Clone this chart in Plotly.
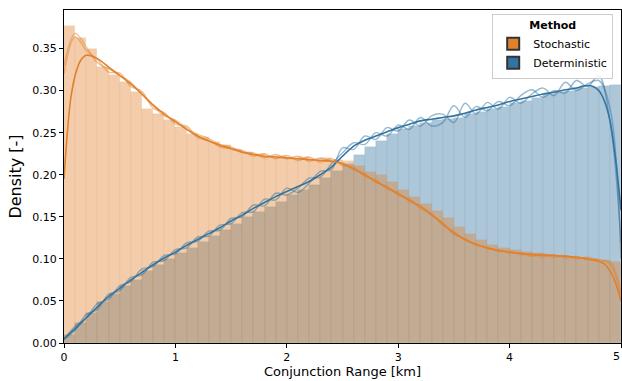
import plotly.graph_objects as go

# ---------------- data ----------------
bin_centers = [round(0.05 + 0.1 * i, 2) for i in range(50)]

stoch_hist = [0.377, 0.363, 0.350, 0.328, 0.318, 0.310, 0.298, 0.278, 0.272, 0.265,
              0.257, 0.249, 0.245, 0.239, 0.235, 0.229, 0.227, 0.225, 0.222, 0.222,
              0.220, 0.221, 0.219, 0.220, 0.218, 0.216, 0.210, 0.203, 0.200, 0.191,
              0.182, 0.174, 0.165, 0.157, 0.148, 0.138, 0.130, 0.123, 0.117, 0.113,
              0.111, 0.108, 0.107, 0.105, 0.104, 0.102, 0.101, 0.100, 0.098, 0.096]

determ_hist = [0.010, 0.024, 0.036, 0.049, 0.058, 0.068, 0.075, 0.085, 0.093, 0.100,
               0.107, 0.113, 0.120, 0.127, 0.134, 0.142, 0.150, 0.156, 0.162, 0.168,
               0.176, 0.182, 0.188, 0.196, 0.204, 0.213, 0.224, 0.233, 0.240, 0.248,
               0.254, 0.258, 0.262, 0.265, 0.266, 0.268, 0.272, 0.274, 0.278, 0.280,
               0.285, 0.288, 0.291, 0.296, 0.298, 0.300, 0.303, 0.304, 0.305, 0.307]

# smooth KDE curves
stoch_kde_x = [0, 0.03, 0.06, 0.1, 0.15, 0.2, 0.3, 0.4, 0.5, 0.6, 0.7, 0.8, 0.9, 1.0,
               1.1, 1.2, 1.3, 1.4, 1.5, 1.6, 1.7, 1.8, 1.9, 2.0, 2.1, 2.2, 2.3, 2.4,
               2.5, 2.6, 2.7, 2.8, 2.9, 3.0, 3.1, 3.2, 3.3, 3.4, 3.5, 3.6, 3.7, 3.8,
               3.9, 4.0, 4.2, 4.4, 4.6, 4.7, 4.8, 4.85, 4.9, 4.95, 5.0]
stoch_kde_y = [0.195, 0.250, 0.290, 0.318, 0.336, 0.342, 0.338, 0.328, 0.318, 0.308,
               0.296, 0.283, 0.272, 0.263, 0.254, 0.246, 0.240, 0.235, 0.231, 0.227,
               0.224, 0.222, 0.221, 0.220, 0.219, 0.218, 0.217, 0.216, 0.213, 0.207,
               0.200, 0.192, 0.185, 0.177, 0.170, 0.162, 0.153, 0.142, 0.131, 0.123,
               0.117, 0.113, 0.110, 0.108, 0.105, 0.104, 0.102, 0.100, 0.097, 0.094,
               0.086, 0.072, 0.050]

determ_kde_x = [0, 0.1, 0.2, 0.3, 0.4, 0.5, 0.6, 0.7, 0.8, 0.9, 1.0, 1.1, 1.2, 1.3,
                1.4, 1.5, 1.6, 1.7, 1.8, 1.9, 2.0, 2.1, 2.2, 2.3, 2.4, 2.5, 2.6, 2.7,
                2.8, 2.9, 3.0, 3.1, 3.2, 3.3, 3.4, 3.5, 3.6, 3.7, 3.8, 3.9, 4.0, 4.1,
                4.2, 4.3, 4.4, 4.5, 4.6, 4.65, 4.7, 4.75, 4.8, 4.85, 4.9, 4.95, 5.0]
determ_kde_y = [0.005, 0.017, 0.030, 0.043, 0.055, 0.065, 0.075, 0.084, 0.093, 0.101,
                0.108, 0.116, 0.123, 0.130, 0.137, 0.145, 0.152, 0.160, 0.167, 0.174,
                0.180, 0.186, 0.192, 0.200, 0.209, 0.222, 0.234, 0.241, 0.246, 0.251,
                0.256, 0.260, 0.264, 0.266, 0.268, 0.270, 0.273, 0.277, 0.280, 0.283,
                0.287, 0.290, 0.293, 0.296, 0.298, 0.301, 0.303, 0.305, 0.306, 0.305,
                0.300, 0.288, 0.265, 0.220, 0.158]

# thin, low-bandwidth KDE runs (sampled every 0.1 km)
grid_x = [round(0.1 * i, 1) for i in range(51)]
stoch_run_a = [0.330, 0.368, 0.352, 0.333, 0.326, 0.318, 0.310, 0.295, 0.282, 0.270,
               0.265, 0.255, 0.248, 0.243, 0.236, 0.233, 0.226, 0.226, 0.220, 0.224,
               0.219, 0.222, 0.216, 0.220, 0.216, 0.214, 0.206, 0.201, 0.191, 0.186,
               0.176, 0.171, 0.160, 0.153, 0.140, 0.132, 0.122, 0.118, 0.112, 0.111,
               0.107, 0.107, 0.103, 0.106, 0.102, 0.104, 0.100, 0.102, 0.098, 0.097,
               0.060]
stoch_run_b = [0.320, 0.364, 0.348, 0.337, 0.322, 0.321, 0.305, 0.299, 0.279, 0.274,
               0.260, 0.258, 0.244, 0.241, 0.233, 0.231, 0.229, 0.222, 0.225, 0.219,
               0.223, 0.217, 0.221, 0.215, 0.219, 0.211, 0.209, 0.198, 0.194, 0.183,
               0.179, 0.168, 0.163, 0.151, 0.143, 0.129, 0.124, 0.116, 0.114, 0.109,
               0.109, 0.105, 0.106, 0.102, 0.105, 0.101, 0.103, 0.099, 0.099, 0.094,
               0.055]
determ_run_a = [0.005, 0.020, 0.030, 0.047, 0.052, 0.068, 0.073, 0.088, 0.091, 0.104,
                0.106, 0.119, 0.121, 0.133, 0.134, 0.148, 0.150, 0.164, 0.163, 0.178,
                0.176, 0.184, 0.196, 0.197, 0.213, 0.226, 0.238, 0.236, 0.250, 0.246,
                0.259, 0.254, 0.268, 0.258, 0.262, 0.282, 0.268, 0.281, 0.276, 0.287,
                0.282, 0.294, 0.301, 0.292, 0.300, 0.297, 0.312, 0.305, 0.318, 0.265,
                0.120]
determ_run_b = [0.004, 0.015, 0.034, 0.040, 0.058, 0.062, 0.078, 0.081, 0.096, 0.098,
                0.111, 0.113, 0.126, 0.127, 0.140, 0.142, 0.155, 0.156, 0.171, 0.170,
                0.184, 0.179, 0.190, 0.204, 0.206, 0.232, 0.230, 0.246, 0.242, 0.256,
                0.252, 0.265, 0.258, 0.270, 0.272, 0.262, 0.285, 0.272, 0.286, 0.278,
                0.292, 0.285, 0.296, 0.303, 0.294, 0.310, 0.300, 0.308, 0.312, 0.280,
                0.100]

x_ticks = [0, 1, 2, 3, 4, 5]
y_ticks = [0.00, 0.05, 0.10, 0.15, 0.20, 0.25, 0.30, 0.35]
labels = ["Stochastic", "Deterministic"]

# ---------------- style ----------------
ORANGE = "225,129,44"
BLUE = "50,116,161"
FONT = "DejaVu Sans"

fig = go.Figure()

# Deterministic bars (below), Stochastic bars (on top)
for vals, col in [(determ_hist, BLUE), (stoch_hist, ORANGE)]:
    fig.add_trace(go.Bar(
        x=bin_centers, y=vals, width=0.1,
        marker=dict(color=f"rgba({col},0.4)",
                    line=dict(color=f"rgba({col},0.14)", width=0.6)),
        showlegend=False, hoverinfo="skip"))

# thin runs
for ys, col in [(determ_run_a, BLUE), (determ_run_b, BLUE),
                (stoch_run_a, ORANGE), (stoch_run_b, ORANGE)]:
    fig.add_trace(go.Scatter(
        x=grid_x, y=ys, mode="lines",
        line=dict(color=f"rgba({col},0.5)", width=1.4, shape="spline", smoothing=1.0),
        showlegend=False, hoverinfo="skip"))

# smooth KDEs
fig.add_trace(go.Scatter(x=determ_kde_x, y=determ_kde_y, mode="lines",
                         line=dict(color=f"rgb({BLUE})", width=1.6, shape="spline", smoothing=0.8),
                         showlegend=False, hoverinfo="skip"))
fig.add_trace(go.Scatter(x=stoch_kde_x, y=stoch_kde_y, mode="lines",
                         line=dict(color=f"rgb({ORANGE})", width=1.6, shape="spline", smoothing=0.8),
                         showlegend=False, hoverinfo="skip"))

# legend entries (opaque patches)
for name, col in zip(labels, [ORANGE, BLUE]):
    fig.add_trace(go.Bar(x=[None], y=[None], name=name,
                         marker=dict(color=f"rgb({col})", line=dict(color="#333333", width=1)),
                         showlegend=True))

fig.update_layout(
    width=622, height=381,
    margin=dict(l=64, r=1, t=10, b=38),
    paper_bgcolor="white", plot_bgcolor="white",
    barmode="overlay", bargap=0,
    font=dict(family=FONT, size=11, color="black"),
    legend=dict(
        title=dict(text="<b>Method</b>", side="top center", font=dict(size=11)),
        x=0.986, y=0.988, xanchor="right", yanchor="top",
        bgcolor="rgba(255,255,255,0.85)", bordercolor="#cccccc", borderwidth=1,
        font=dict(size=11), traceorder="normal",
        itemsizing="constant", tracegroupgap=0),
)
# last x tick label sits at the figure edge; keep it fully visible
fig.add_annotation(x=x_ticks[-1], y=0, xref="x", yref="paper", text=str(x_ticks[-1]),
                   showarrow=False, yanchor="top", xanchor="right", xshift=1, yshift=-5,
                   font=dict(family=FONT, size=11, color="black"))
fig.update_xaxes(range=[0, 5], tickvals=x_ticks, ticktext=[str(t) for t in x_ticks],
                 showgrid=False, zeroline=False, showline=True, linecolor="black",
                 linewidth=1, mirror=True, ticks="outside", ticklen=4, tickcolor="black",
                 title=dict(text="Conjunction Range [km]", font=dict(size=13), standoff=2))
fig.update_yaxes(range=[0, 0.3958], tickvals=y_ticks, ticktext=[f"{v:.2f}" for v in y_ticks],
                 showgrid=False, zeroline=False, showline=True, linecolor="black",
                 linewidth=1, mirror=True, ticks="outside", ticklen=4, tickcolor="black",
                 title=dict(text="Density [-]", font=dict(size=16), standoff=6))

fig.write_html("out.html")
